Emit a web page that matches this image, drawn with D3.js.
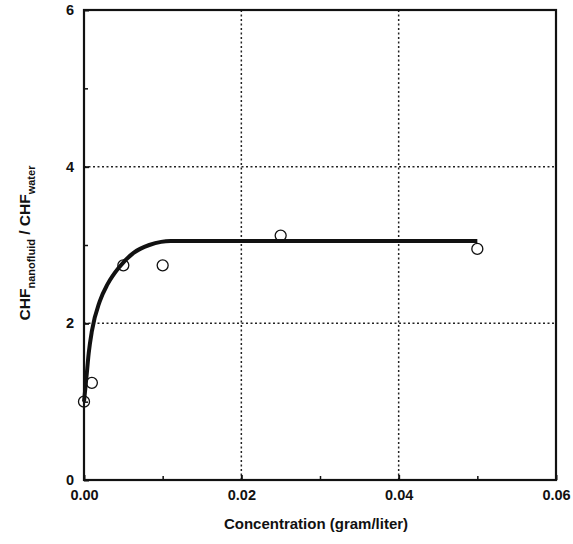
<!DOCTYPE html>
<html>
<head>
<meta charset="utf-8">
<script src="https://cdn.jsdelivr.net/npm/d3@7"></script>
<style>
  html, body { margin: 0; padding: 0; background: #fff; }
  svg { display: block; }
  text { font-family: "Liberation Sans", Arial, sans-serif; font-weight: bold; fill: #111; }
</style>
</head>
<body>
<script>
// Measured CHF ratios versus nanoparticle concentration
const concentration = [0, 0.001, 0.005, 0.01, 0.025, 0.05];
const chfRatio      = [1.0, 1.24, 2.74, 2.74, 3.12, 2.95];

// Trend curve drawn through the data
const fitX = [0, 0.0003, 0.0006, 0.001, 0.002, 0.003, 0.0045, 0.0063, 0.0083, 0.0098, 0.011, 0.03, 0.05];
const fitY = [1.0, 1.30, 1.62, 1.90, 2.28, 2.50, 2.72, 2.90, 3.00, 3.04, 3.05, 3.05, 3.05];

const xMajor = [0, 0.02, 0.04, 0.06];
const xMinor = [0.01, 0.03, 0.05];
const yMajor = [0, 2, 4, 6];
const yMinor = [1, 3, 5];
const xGrid = [0.02, 0.04];
const yGrid = [2, 4];

const W = 573, H = 544;
const plotLeft = 84, plotRight = 556, plotTop = 10, plotBottom = 480;

const x = d3.scaleLinear().domain([0, 0.06]).range([plotLeft, plotRight]);
const y = d3.scaleLinear().domain([0, 6]).range([plotBottom, plotTop]);

const svg = d3.select("body").append("svg").attr("width", W).attr("height", H);

// dotted grid
svg.append("g").selectAll("line").data(xGrid).join("line")
  .attr("x1", d => x(d)).attr("x2", d => x(d))
  .attr("y1", plotTop).attr("y2", plotBottom)
  .attr("stroke", "#222").attr("stroke-width", 1.5).attr("stroke-dasharray", "2,2.5");
svg.append("g").selectAll("line").data(yGrid).join("line")
  .attr("x1", plotLeft).attr("x2", plotRight)
  .attr("y1", d => y(d)).attr("y2", d => y(d))
  .attr("stroke", "#222").attr("stroke-width", 1.5).attr("stroke-dasharray", "2,2.5");

// axes with inward ticks
const xAxis = d3.axisBottom(x).tickValues(xMajor).tickFormat(d3.format(".2f")).tickSize(-5).tickPadding(12);
const gx = svg.append("g").attr("transform", `translate(0,${plotBottom})`).call(xAxis);
const yAxis = d3.axisLeft(y).tickValues(yMajor).tickFormat(d3.format("d")).tickSize(-5).tickPadding(10);
const gy = svg.append("g").attr("transform", `translate(${plotLeft},0)`).call(yAxis);
[gx, gy].forEach(g => {
  g.select(".domain").remove();
  g.selectAll(".tick line").attr("stroke", "#111").attr("stroke-width", 2);
  g.selectAll(".tick text").attr("font-size", 14.5).attr("fill", "#111")
    .style("font-family", "'Liberation Sans', Arial, sans-serif").style("font-weight", "bold");
});
gx.selectAll(".tick text").attr("dy", "0.55em");

const gxm = svg.append("g").attr("transform", `translate(0,${plotBottom})`)
  .call(d3.axisBottom(x).tickValues(xMinor).tickSize(-4).tickFormat(""));
const gym = svg.append("g").attr("transform", `translate(${plotLeft},0)`)
  .call(d3.axisLeft(y).tickValues(yMinor).tickSize(-4).tickFormat(""));
[gxm, gym].forEach(g => {
  g.select(".domain").remove();
  g.selectAll(".tick line").attr("stroke", "#111").attr("stroke-width", 1.5);
});

// frame
svg.append("rect")
  .attr("x", plotLeft).attr("y", plotTop)
  .attr("width", plotRight - plotLeft).attr("height", plotBottom - plotTop)
  .attr("fill", "none").attr("stroke", "#111").attr("stroke-width", 2.2);

// trend curve
const fit = fitX.map((v, i) => [v, fitY[i]]);
svg.append("path").datum(fit)
  .attr("fill", "none").attr("stroke", "#111").attr("stroke-width", 4)
  .attr("stroke-linejoin", "round")
  .attr("d", d3.line().x(d => x(d[0])).y(d => y(d[1])).curve(d3.curveMonotoneX));

// measured points
svg.append("g").selectAll("circle").data(concentration.map((c, i) => [c, chfRatio[i]])).join("circle")
  .attr("cx", d => x(d[0])).attr("cy", d => y(d[1])).attr("r", 5.5)
  .attr("fill", "none").attr("stroke", "#111").attr("stroke-width", 1.3);

// axis titles
svg.append("text").attr("x", 316).attr("y", 529)
  .attr("text-anchor", "middle").attr("font-size", 15).text("Concentration (gram/liter)");

const yt = svg.append("text")
  .attr("transform", "translate(30,243) rotate(-90)")
  .attr("text-anchor", "middle").attr("font-size", 15.5);
yt.append("tspan").text("CHF");
yt.append("tspan").attr("font-size", 11).attr("dy", 5).text("nanofluid");
yt.append("tspan").attr("dy", -5).text(" / CHF");
yt.append("tspan").attr("font-size", 11).attr("dy", 5).text("water");
</script>
</body>
</html>
